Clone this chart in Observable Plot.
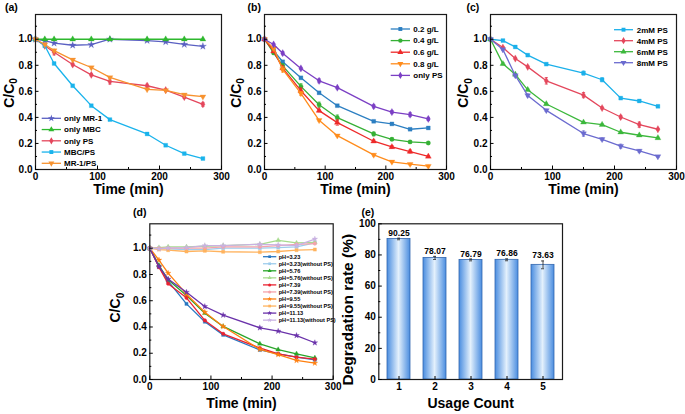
<!DOCTYPE html>
<html><head><meta charset="utf-8">
<script src="https://cdn.jsdelivr.net/npm/d3@7"></script>
<script src="https://cdn.jsdelivr.net/npm/@observablehq/plot@0.6"></script>
<style>
body{margin:0;background:#fff;}
#fig{position:relative;width:685px;height:414px;background:#fff;font-family:"Liberation Sans",Arial,sans-serif;}
#fig svg{position:absolute;overflow:visible;}
</style></head><body><div id="fig"></div>
<script>
// ---------- data ----------
// (a)
const aTime = [0,15,30,60,90,120,180,210,240,270];
const aMR1   = [1.0,0.99,0.97,0.954,0.958,1.0,0.99,0.98,0.96,0.946];
const aMBC   = [1,1,1,1,1,1,1,1,1,1];
const aPS    = [1.0,0.95,0.90,0.806,0.727,0.676,0.643,0.61,0.556,0.50];
const aPSerr = [0,0.01,0.02,0.01,0.008,0.02,0.012,0.008,0.01,0.015];
const aMBCPS = [1.0,0.95,0.814,0.643,0.49,0.383,0.273,0.186,0.122,0.084];
const aMR1PS = [1.0,0.96,0.913,0.842,0.783,0.707,0.615,0.607,0.574,0.559];
// (b)
const bTime = [0,15,30,60,90,120,180,210,240,270];
const b02 = [1,0.913,0.827,0.704,0.589,0.49,0.37,0.35,0.309,0.319];
const b04 = [1,0.895,0.796,0.638,0.497,0.398,0.273,0.232,0.212,0.204];
const b06 = [1,0.908,0.778,0.605,0.452,0.36,0.217,0.173,0.138,0.1];
const b08 = [1,0.93,0.768,0.584,0.378,0.26,0.112,0.059,0.041,0.026];
const bPS = [1,0.96,0.893,0.776,0.681,0.628,0.485,0.441,0.421,0.388];
const b02err = [0,0.008,0.01,0.008,0.008,0.006,0.006,0.006,0.006,0.006];
const b04err = [0,0.01,0.015,0.02,0.02,0.02,0.015,0.01,0.008,0.006];
const b06err = [0,0.01,0.015,0.02,0.01,0.02,0.01,0.01,0.012,0.008];
const b08err = [0,0.01,0.02,0.015,0.006,0.006,0.008,0.006,0.006,0.006];
const bPSerr = [0,0.008,0.012,0.008,0.015,0.008,0.012,0.012,0.015,0.012];
// (c)
const cTime = [0,20,40,60,90,150,180,210,240,270];
const c2 = [1,0.99,0.941,0.878,0.809,0.74,0.689,0.548,0.526,0.485];
const c4 = [1,0.936,0.852,0.788,0.681,0.571,0.472,0.403,0.344,0.309];
const c6 = [1,0.811,0.73,0.612,0.503,0.362,0.344,0.286,0.263,0.242];
const c8 = [1,0.921,0.722,0.569,0.454,0.276,0.232,0.179,0.143,0.1];
const c2err = [0,0.006,0.006,0.006,0.006,0.015,0.015,0.006,0.006,0.008];
const c4err = [0,0.006,0.006,0.006,0.025,0.02,0.006,0.012,0.02,0.006];
const c6err = [0,0.008,0.006,0.006,0.006,0.006,0.006,0.006,0.006,0.006];
const c8err = [0,0.006,0.01,0.01,0.008,0.02,0.01,0.015,0.01,0.006];
// (d)
const dTime = [0,15,30,60,90,120,180,210,240,270];
const d323   = [1,0.86,0.75,0.576,0.44,0.34,0.225,0.195,0.17,0.15];
const d323w  = [1,1,0.995,0.99,0.99,1.0,1.0,1.005,1.01,1.04];
const d576   = [1,0.87,0.76,0.64,0.505,0.404,0.272,0.228,0.196,0.165];
const d576w  = [1,1.005,1.01,1.01,1.015,1.02,1.03,1.06,1.04,1.045];
const d739   = [1,0.855,0.73,0.622,0.45,0.348,0.24,0.196,0.17,0.155];
const d739w  = [1,1,1,1,1,1.01,1.01,1.02,1.03,1.035];
const d955   = [1,0.91,0.81,0.65,0.513,0.404,0.23,0.19,0.145,0.125];
const d955w  = [1,0.99,0.985,0.975,0.98,0.973,0.97,0.975,0.985,0.99];
const d1113  = [1,0.86,0.765,0.665,0.556,0.49,0.394,0.368,0.335,0.28];
const d1113w = [1,0.995,1.0,1.005,1.02,1.02,1.03,1.025,1.02,1.07];
// (e)
const eCount = [1,2,3,4,5];
const eRate  = [90.25,78.07,76.79,76.86,73.63];
const eErr   = [0.5,1.0,0.6,0.6,2.5];
// ticks
const timeTicks = [0,100,200,300];
const timeMinor = [50,150,250];
const ccTicks = [0,0.2,0.4,0.6,0.8,1.0];
const ccMinor = [0.1,0.3,0.5,0.7,0.9,1.1];
const rateTicks = [0,20,40,60,80,100];
const rateMinor = [10,30,50,70,90];

// ---------- series styles ----------
const aSeries = [
  {name:"only MR-1", values:aMR1, color:"#5A60C2", symbol:"star"},
  {name:"only MBC", values:aMBC, color:"#2EB82E", symbol:"triangle"},
  {name:"only PS", values:aPS, errs:aPSerr, color:"#E4465C", symbol:"diamond"},
  {name:"MBC/PS", values:aMBCPS, color:"#19B3EC", symbol:"square"},
  {name:"MR-1/PS", values:aMR1PS, color:"#F7922F", symbol:"triangle", rotate:180}
];
const bSeries = [
  {name:"0.2 g/L", values:b02, errs:b02err, color:"#2C7FC2", symbol:"square"},
  {name:"0.4 g/L", values:b04, errs:b04err, color:"#35B035", symbol:"circle"},
  {name:"0.6 g/L", values:b06, errs:b06err, color:"#EE2A2A", symbol:"triangle"},
  {name:"0.8 g/L", values:b08, errs:b08err, color:"#FF8C1C", symbol:"triangle", rotate:180},
  {name:"only PS", values:bPS, errs:bPSerr, color:"#7B3FC4", symbol:"diamond"}
];
const cSeries = [
  {name:"2mM PS", values:c2, errs:c2err, color:"#1BB0EA", symbol:"square"},
  {name:"4mM PS", values:c4, errs:c4err, color:"#E4475C", symbol:"diamond"},
  {name:"6mM PS", values:c6, errs:c6err, color:"#3CB83C", symbol:"triangle"},
  {name:"8mM PS", values:c8, errs:c8err, color:"#6B6BCF", symbol:"triangle", rotate:180}
];
const dSeries = [
  {name:"pH=3.23", values:d323, color:"#2A78C2", symbol:"square"},
  {name:"pH=3.23(without PS)", values:d323w, color:"#9DCCEC", symbol:"square"},
  {name:"pH=5.76", values:d576, color:"#2AA52A", symbol:"triangle"},
  {name:"pH=5.76(without PS)", values:d576w, color:"#A8DC8E", symbol:"triangle"},
  {name:"pH=7.39", values:d739, color:"#EA2230", symbol:"circle"},
  {name:"pH=7.39(without PS)", values:d739w, color:"#F5A3AA", symbol:"circle"},
  {name:"pH=9.55", values:d955, color:"#FF7F0E", symbol:"star"},
  {name:"pH=9.55(without PS)", values:d955w, color:"#FFB35E", symbol:"square"},
  {name:"pH=11.13", values:d1113, color:"#6A32AA", symbol:"star"},
  {name:"pH=11.13(without PS)", values:d1113w, color:"#C9B2E2", symbol:"star"}
];

const capSymbol = {draw(ctx, size){ const w = Math.sqrt(size/Math.PI); ctx.moveTo(-w,0); ctx.lineTo(w,0); }};

function seriesMarks(times, s, r){
  const rows = times.map((t,i)=>({t, v:s.values[i], e:s.errs ? s.errs[i] : 0}));
  const eb = rows.filter(d=>d.e>0);
  return [
    Plot.line(rows, {x:"t", y:"v", stroke:s.color, strokeWidth:1.3}),
    Plot.ruleX(eb, {x:"t", y1:d=>d.v-d.e, y2:d=>d.v+d.e, stroke:s.color, strokeWidth:0.8}),
    Plot.dot(eb, {x:"t", y:d=>d.v+d.e, symbol:capSymbol, r:1.6, fill:"none", stroke:s.color, strokeWidth:0.8}),
    Plot.dot(eb, {x:"t", y:d=>d.v-d.e, symbol:capSymbol, r:1.6, fill:"none", stroke:s.color, strokeWidth:0.8}),
    Plot.dot(rows, {x:"t", y:"v", symbol:s.symbol, r, fill:s.color, stroke:s.color, strokeWidth:0.3, rotate:s.rotate||0})
  ];
}

const fig = document.getElementById("fig");
const fmt1 = d3.format(".1f");

function axes(xTicks, xMinor, yTicks, yMinor, xFmt, yFmt){
  return [
    Plot.axisX({ticks:xTicks, tickSize:-3.5, tickPadding:7, tickFormat:xFmt, label:null, fontSize:10, fontWeight:"bold"}),
    Plot.axisX({ticks:xMinor, tickSize:-2, tickPadding:0, tickFormat:()=>"", label:null}),
    Plot.axisY({ticks:yTicks, tickSize:-3.5, tickPadding:6.5, tickFormat:yFmt, label:null, fontSize:10, fontWeight:"bold"}),
    Plot.axisY({ticks:yMinor, tickSize:-2, tickPadding:0, tickFormat:()=>"", label:null})
  ];
}

function place(svg, left, top){
  svg.style.position = "absolute";
  svg.style.left = left + "px";
  svg.style.top = top + "px";
  d3.select(svg).selectAll("text").filter(function(){ return this.textContent === "C/C0"; }).each(function(){
    const t = d3.select(this); t.text("");
    t.append("tspan").text("C/C");
    t.append("tspan").attr("font-size", 10).attr("dy", 3.5).text("0");
  });
  fig.appendChild(svg);
  return svg;
}

const baseStyle = {background:"transparent", overflow:"visible", fontFamily:"'Liberation Sans', Arial, sans-serif", fontSize:"10px", fontWeight:"bold", color:"#000"};

function linePanel({left, top, width, height, margin, yDomain, series, times, r, yTitleDx, yTitleDy, xTitleDy}){
  const [mt, mr, mb, ml] = margin;
  const svg = Plot.plot({
    width, height, marginTop:mt, marginRight:mr, marginBottom:mb, marginLeft:ml,
    style: baseStyle,
    x:{domain:[0,300]}, y:{domain:yDomain},
    marks:[
      ...series.flatMap(s => seriesMarks(times, s, r)),
      Plot.frame({stroke:"#1a1a1a", strokeWidth:1.2}),
      ...axes(timeTicks, timeMinor, ccTicks, ccMinor, d3.format("d"), fmt1),
      Plot.text(["C/C0"], {text:d=>d, frameAnchor:"left", textAnchor:"middle", lineAnchor:"middle", dx:yTitleDx, dy:yTitleDy, rotate:-90, fontSize:14, fontWeight:"bold"}),
      Plot.text(["Time (min)"], {text:d=>d, frameAnchor:"bottom", textAnchor:"middle", dy:xTitleDy, lineAnchor:"middle", fontSize:14, fontWeight:"bold"})
    ]
  });
  return place(svg, left, top);
}

linePanel({left:0, top:0, width:230, height:200, margin:[14,9,31,35], yDomain:[0,1.19], series:aSeries, times:aTime, r:2.2, yTitleDx:-26, yTitleDy:1, xTitleDy:20});
linePanel({left:228, top:0, width:227, height:200, margin:[14,9,31,36], yDomain:[0,1.19], series:bSeries, times:bTime, r:2.2, yTitleDx:-28, yTitleDy:1, xTitleDy:20});
linePanel({left:455, top:0, width:230, height:200, margin:[14,9,31,35], yDomain:[0,1.19], series:cSeries, times:cTime, r:2.2, yTitleDx:-26.5, yTitleDy:1, xTitleDy:20});
linePanel({left:100, top:200, width:245, height:214, margin:[23.3,12.3,35,49.3], yDomain:[0,1.186], series:dSeries, times:dTime, r:1.8, yTitleDx:-34, yTitleDy:6, xTitleDy:24.5});

// (e) bars
const eRows = eCount.map((k,i)=>({k, v:eRate[i], e:eErr[i]}));
const eSvg = Plot.plot({
  width:230, height:214, marginTop:23.3, marginRight:13, marginBottom:35, marginLeft:33.3,
  style: baseStyle,
  x:{type:"band", domain:eCount, paddingInner:0.365, paddingOuter:0.185},
  y:{domain:[0,100]},
  marks:[
    Plot.barY(eRows, {x:"k", y:"v", fill:"url(#barGrad)", stroke:"#3467AE", strokeWidth:0.8}),
    Plot.ruleX(eRows, {x:"k", y1:d=>d.v-d.e, y2:d=>d.v+d.e, stroke:"#222", strokeWidth:0.8}),
    Plot.tickY(eRows, {x:"k", y:d=>d.v+d.e, insetLeft:10, insetRight:10, stroke:"#222", strokeWidth:0.8}),
    Plot.tickY(eRows, {x:"k", y:d=>d.v-d.e, insetLeft:10, insetRight:10, stroke:"#222", strokeWidth:0.8}),
    Plot.text(eRows, {x:"k", y:d=>d.v+d.e, text:d=>d.v.toFixed(2), dy:-2.5, lineAnchor:"bottom", fontSize:8.5, fontWeight:"bold"}),
    Plot.frame({stroke:"#1a1a1a", strokeWidth:1.2}),
    Plot.axisX({tickSize:-3, tickPadding:6.5, label:null, fontSize:10, fontWeight:"bold"}),
    Plot.axisY({ticks:rateTicks, tickSize:-3.5, tickPadding:6.5, label:null, fontSize:10, fontWeight:"bold"}),
    Plot.axisY({ticks:rateMinor, tickSize:-2, tickPadding:0, tickFormat:()=>"", label:null}),
    Plot.text(["Degradation rate (%)"], {text:d=>d, frameAnchor:"left", textAnchor:"middle", lineAnchor:"middle", dx:-31, dy:8, rotate:-90, fontSize:15.5, fontWeight:"bold"}),
    Plot.text(["Usage Count"], {text:d=>d, frameAnchor:"bottom", textAnchor:"middle", dy:24, lineAnchor:"middle", fontSize:14, fontWeight:"bold"})
  ]
});
const grad = d3.select(eSvg).insert("defs", ":first-child").append("linearGradient")
  .attr("id","barGrad").attr("x1",0).attr("x2",1).attr("y1",0).attr("y2",0);
grad.append("stop").attr("offset","0%").attr("stop-color","#4A8DE0");
grad.append("stop").attr("offset","50%").attr("stop-color","#E3F0FC");
grad.append("stop").attr("offset","100%").attr("stop-color","#4A8DE0");
place(eSvg, 345, 200);

// ---------- overlay: panel labels & legends ----------
const ov = d3.select(fig).append("svg").attr("width",685).attr("height",414)
  .style("left","0px").style("top","0px").style("pointer-events","none")
  .attr("font-family","'Liberation Sans', Arial, sans-serif").attr("font-weight","bold");

[["(a)",5,10.5],["(b)",247.5,10.5],["(c)",466.5,10.5],["(d)",133,216],["(e)",361.5,216]].forEach(([t,x,y])=>{
  ov.append("text").attr("x",x).attr("y",y).attr("font-size",10.5).text(t);
});

const symMap = {square:d3.symbolSquare, triangle:d3.symbolTriangle, star:d3.symbolStar, diamond:d3.symbolDiamond, circle:d3.symbolCircle};
function legend(series, {x0, x1, xt, y0, dy, fs, r}){
  series.forEach((s,i)=>{
    const y = y0 + i*dy;
    ov.append("line").attr("x1",x0).attr("x2",x1).attr("y1",y).attr("y2",y).attr("stroke",s.color).attr("stroke-width",1.3);
    ov.append("path").attr("d", d3.symbol(symMap[s.symbol], Math.PI*r*r)())
      .attr("transform",`translate(${(x0+x1)/2},${y}) rotate(${s.rotate||0})`).attr("fill",s.color);
    ov.append("text").attr("x",xt).attr("y",y).attr("dy","0.35em").attr("font-size",fs).text(s.name);
  });
}
legend(aSeries, {x0:41.7, x1:61, xt:64, y0:118.3, dy:11.25, fs:8, r:2.2});
legend(bSeries, {x0:390.7, x1:410, xt:413.3, y0:29, dy:11.6, fs:8, r:2.2});
legend(cSeries, {x0:614, x1:633, xt:636.7, y0:29.7, dy:11, fs:8, r:2.2});
legend(dSeries, {x0:263, x1:276.3, xt:278.7, y0:256.7, dy:7.05, fs:5.6, r:1.5});
</script></body></html>
